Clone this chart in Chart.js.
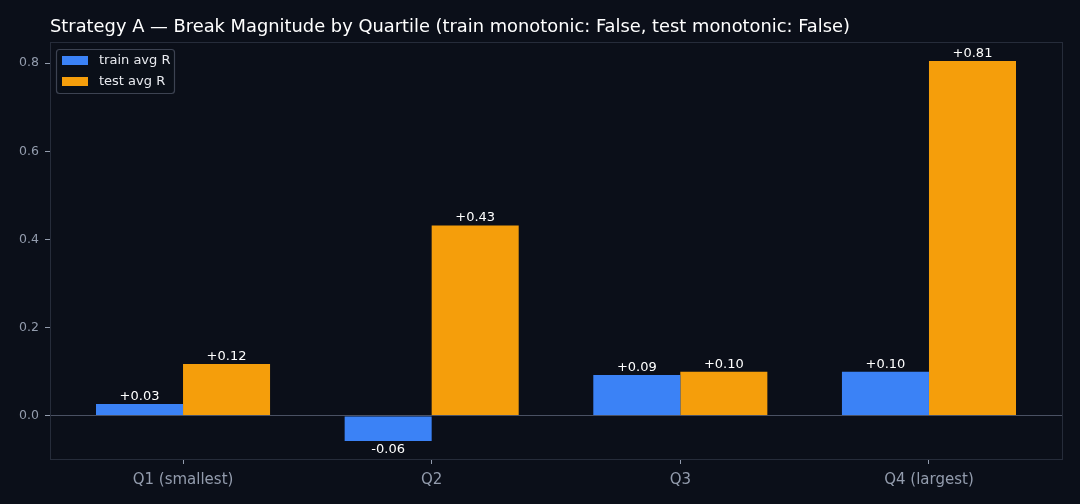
<!DOCTYPE html>
<html>
<head>
<meta charset="utf-8">
<script src="https://cdn.jsdelivr.net/npm/chart.js@4"></script>
<style>
  html,body{margin:0;padding:0;background:#0b0f19;}
  #wrap{width:1080px;height:504px;position:relative;}
</style>
</head>
<body>
<div id="wrap"><canvas id="c" width="1080" height="504"></canvas></div>
<script>
const categories = ["Q1 (smallest)", "Q2", "Q3", "Q4 (largest)"];
const trainAvgR = [0.027, -0.057, 0.093, 0.100];
const testAvgR = [0.118, 0.432, 0.100, 0.805];
const seriesNames = ["train avg R", "test avg R"];
const titleText = "Strategy A \u2014 Break Magnitude by Quartile (train monotonic: False, test monotonic: False)";

const BG = "#0b0f19";
const BLUE = "#3b82f6";
const ORANGE = "#f59e0b";
const TICK = "#939cad";
const FONT = "'DejaVu Sans', sans-serif";

const toPts = arr => arr.map((v, i) => ({x: i, y: v}));

const fmt = v => (v >= 0 ? "+" : "") + v.toFixed(2);

const decor = {
  id: "decor",
  beforeDraw(chart) {
    const ctx = chart.ctx;
    ctx.save();
    ctx.fillStyle = BG;
    ctx.fillRect(0, 0, chart.width, chart.height);
    ctx.restore();
  },
  afterDatasetsDraw(chart) {
    const ctx = chart.ctx;
    const a = chart.chartArea;
    const ys = chart.scales.y;
    ctx.save();
    // zero line
    const y0 = Math.floor(ys.getPixelForValue(0)) + 0.5;
    ctx.strokeStyle = "#4a5163";
    ctx.lineWidth = 1;
    ctx.beginPath();
    ctx.moveTo(a.left, y0);
    ctx.lineTo(a.right, y0);
    ctx.stroke();
    // border
    ctx.strokeStyle = "#262c3a";
    ctx.strokeRect(Math.round(a.left) + 0.5, Math.round(a.top) + 0.5, Math.round(a.right - a.left), Math.round(a.bottom - a.top) - 1);
    // value labels
    ctx.font = "13px " + FONT;
    ctx.fillStyle = "#ffffff";
    ctx.textAlign = "center";
    chart.data.datasets.forEach((ds, di) => {
      const meta = chart.getDatasetMeta(di);
      meta.data.forEach((bar, i) => {
        const v = ds.data[i].y;
        if (v >= 0) {
          ctx.textBaseline = "bottom";
          ctx.fillText(fmt(v), bar.x, bar.y - 1);
        } else {
          ctx.textBaseline = "top";
          ctx.fillText(fmt(v), bar.x, bar.y + 2);
        }
      });
    });
    // title
    ctx.font = "17.85px " + FONT;
    ctx.textAlign = "left";
    ctx.textBaseline = "alphabetic";
    ctx.fillStyle = "#ffffff";
    ctx.fillText(titleText, a.left, 32);
    // legend
    const lx = a.left + 6, ly = a.top + 7;
    ctx.fillStyle = "rgba(11,15,25,0.85)";
    ctx.strokeStyle = "#3d4352";
    ctx.lineWidth = 1.2;
    ctx.beginPath();
    ctx.roundRect(lx + 0.5, ly + 0.5, 118, 44, 3);
    ctx.fill();
    ctx.stroke();
    ctx.font = "13px " + FONT;
    ctx.textBaseline = "middle";
    const cols = [BLUE, ORANGE];
    seriesNames.forEach((n, k) => {
      const yy = ly + 7 + k * 21;
      ctx.fillStyle = cols[k];
      ctx.fillRect(lx + 6, yy, 26, 9);
      ctx.fillStyle = "#e8eaef";
      ctx.fillText(n, lx + 43, yy + 5);
    });
    ctx.restore();
  }
};

new Chart(document.getElementById("c"), {
  type: "bar",
  data: {
    datasets: [
      {label: seriesNames[0], data: toPts(trainAvgR), backgroundColor: BLUE, borderWidth: 0},
      {label: seriesNames[1], data: toPts(testAvgR), backgroundColor: ORANGE, borderWidth: 0}
    ]
  },
  options: {
    responsive: false,
    animation: false,
    devicePixelRatio: 1,
    layout: {padding: {top: 42, right: 18, left: 0, bottom: 0}},
    categoryPercentage: 0.7,
    barPercentage: 1.0,
    plugins: {legend: {display: false}, title: {display: false}, tooltip: {enabled: false}},
    scales: {
      x: {
        type: "linear",
        min: -0.535,
        max: 3.535,
        offset: false,
        grid: {display: true, offset: false, drawOnChartArea: false, drawTicks: true, tickLength: 4, color: TICK},
        border: {display: false},
        ticks: {
          stepSize: 1,
          includeBounds: false,
          autoSkip: false,
          maxRotation: 0,
          color: TICK,
          font: {family: FONT, size: 15},
          padding: 7,
          callback: v => (Number.isInteger(v) && categories[v] !== undefined) ? categories[v] : ""
        },
        afterFit: s => { s.height = 44; }
      },
      y: {
        min: -0.1,
        max: 0.848,
        grid: {display: true, offset: false, drawOnChartArea: false, drawTicks: true, tickLength: 5, color: TICK},
        border: {display: false},
        ticks: {
          stepSize: 0.2,
          includeBounds: false,
          color: TICK,
          font: {family: FONT, size: 12.5},
          padding: 6,
          callback: v => v.toFixed(1)
        },
        afterFit: s => { s.width = 50; }
      }
    }
  },
  plugins: [decor]
});
</script>
</body>
</html>
